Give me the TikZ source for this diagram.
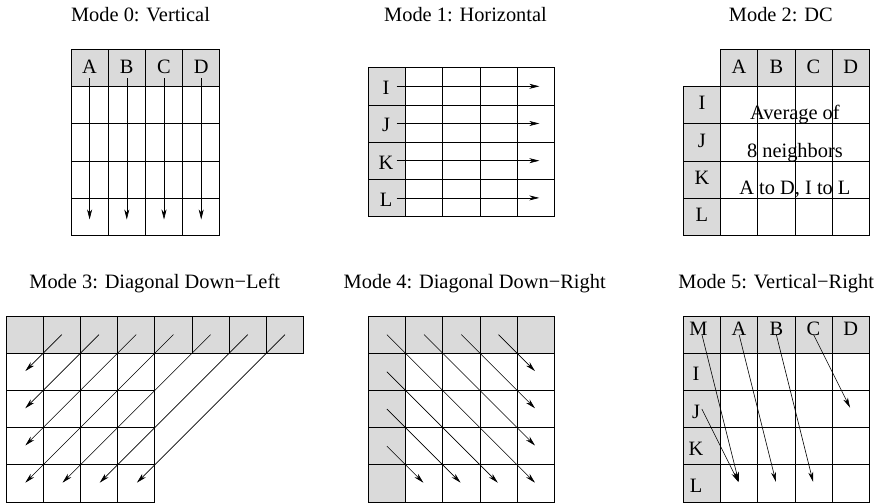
\documentclass[tikz,border=0pt]{standalone}
\usepackage{fontspec}
\setmainfont{Liberation Serif}
\usetikzlibrary{arrows.meta}
\definecolor{cellgray}{RGB}{218,218,218}
\tikzset{
  cell/.style={draw=black, line width=0.8pt, minimum width=37.2pt, minimum height=37.2pt, inner sep=0pt, outer sep=0pt, fill=white},
  gcell/.style={cell, fill=cellgray},
  lett/.style={font=\fontsize{20.4}{24}\selectfont, inner sep=0pt, anchor=base},
  ttl/.style={font=\fontsize{20.4}{24}\selectfont, inner sep=0pt, anchor=base},
  arr/.style={line width=0.6pt, -{Stealth[length=10pt,width=5pt,inset=3pt]}}
}
\begin{document}
\begin{tikzpicture}[x=1pt,y=-1pt]
\useasboundingbox (0,0) rectangle (882,503);
% ---------- titles ----------
\node[ttl] (t0) at (140.5,21.7) {Mode 0: Vertical};
\node[ttl] (t1) at (465.5,21.7) {Mode 1: Horizontal};
\node[ttl] (t2) at (780.8,21.7) {Mode 2: DC};
\node[ttl] (t3) at (154.7,288.3) {Mode 3: Diagonal Down−Left};
\node[ttl] (t4) at (474.7,288.3) {Mode 4: Diagonal Down−Right};
\node[ttl] (t5) at (776.2,288.3) {Mode 5: Vertical−Right};
% ---------- Mode 0 ----------
\foreach \c in {0,...,3} {
  \node[gcell] (a-\c-0) at ({89.6+37.2*\c},67.9) {};
  \foreach \r in {1,...,4}
    \node[cell] (a-\c-\r) at ({89.6+37.2*\c},{67.9+37.2*\r}) {};
}
\foreach \c/\l in {0/A,1/B,2/C,3/D}
  \node[lett] (al-\c) at ({89.6+37.2*\c},73.5) {\l};
\foreach \c in {0,...,3}
  \draw[arr] ([yshift=-4.5pt]al-\c.base) -- ([yshift=-2.8pt]a-\c-4.center);
% ---------- Mode 1 ----------
\foreach \r in {0,...,3} {
  \node[gcell] (b-0-\r) at (386.9,{86.3+37.2*\r}) {};
  \foreach \c in {1,...,4}
    \node[cell] (b-\c-\r) at ({386.9+37.2*\c},{86.3+37.2*\r}) {};
}
\foreach \r/\l in {0/I,1/J,2/K,3/L}
  \node[lett] (bl-\r) at (386,{94.6+37.2*\r}) {\l};
\foreach \r in {0,...,3}
  \draw[arr] ([xshift=-8.8pt]b-0-\r.east) -- ([xshift=3.6pt]b-4-\r.center);
% ---------- Mode 2 ----------
\foreach \c in {1,...,4} {
  \node[gcell] (c-\c-0) at ({701.9+37.2*\c},67.9) {};
  \node[gcell] (c-0-\c) at (701.9,{67.9+37.2*\c}) {};
}
\foreach \c in {1,...,4}
  \foreach \r in {1,...,4}
    \node[cell] (c-\c-\r) at ({701.9+37.2*\c},{67.9+37.2*\r}) {};
\foreach \c/\l in {1/A,2/B,3/C,4/D}
  \node[lett] (cl-\c) at ({701.9+37.2*\c},74) {\l};
\foreach \r/\l in {1/I,2/J,3/K,4/L}
  \node[lett] (cr-\r) at (701.9,{72.6+37.2*\r}) {\l};
\node[lett] (dc1) at (794.9,119.8) {Average of};
\node[lett] (dc2) at (794.9,157.0) {8 neighbors};
\node[lett] (dc3) at (794.9,194.4) {A to D, I to L};
% ---------- Mode 3 ----------
\foreach \c in {0,...,7}
  \node[gcell] (d-\c-0) at ({24.6+37.2*\c},334.6) {};
\foreach \c in {0,...,3}
  \foreach \r in {1,...,4}
    \node[cell] (d-\c-\r) at ({24.6+37.2*\c},{334.6+37.2*\r}) {};
\foreach \k/\tc/\tr in {1/0/1,2/0/2,3/0/3,4/0/4,5/1/4,6/2/4,7/3/4}
  \draw[arr, shorten >=1pt] (d-\k-0.center) -- (d-\tc-\tr.center);
% ---------- Mode 4 ----------
\foreach \c in {0,...,4}
  \node[gcell] (e-\c-0) at ({386.9+37.2*\c},334.6) {};
\foreach \r in {1,...,4}
  \node[gcell] (e-0-\r) at (386.9,{334.6+37.2*\r}) {};
\foreach \c in {1,...,4}
  \foreach \r in {1,...,4}
    \node[cell] (e-\c-\r) at ({386.9+37.2*\c},{334.6+37.2*\r}) {};
\foreach \sc/\sr/\tc/\tr in {0/0/4/4,1/0/4/3,2/0/4/2,3/0/4/1,0/1/3/4,0/2/2/4,0/3/1/4}
  \draw[arr, shorten >=1pt] (e-\sc-\sr.center) -- (e-\tc-\tr.center);
% ---------- Mode 5 ----------
\foreach \c in {0,...,4}
  \node[gcell] (f-\c-0) at ({701.9+37.2*\c},334.6) {};
\foreach \r in {1,...,4}
  \node[gcell] (f-0-\r) at (701.9,{334.6+37.2*\r}) {};
\foreach \c in {1,...,4}
  \foreach \r in {1,...,4}
    \node[cell] (f-\c-\r) at ({701.9+37.2*\c},{334.6+37.2*\r}) {};
\node[lett] (fl-0) at (698.4,335) {M};
\foreach \c/\l in {1/A,2/B,3/C,4/D}
  \node[lett] (fl-\c) at ({701.9+37.2*\c},335) {\l};
\foreach \r/\l in {1/I,2/J,3/K,4/L}
  \node[lett] (fr-\r) at (696,{343.6+37.2*\r}) {\l};
\foreach \sc/\sr/\tc/\tr in {0/0/1/4,1/0/2/4,2/0/3/4,3/0/4/2,0/2/1/4}
  \draw[arr, shorten >=1.5pt] (f-\sc-\sr.center) -- (f-\tc-\tr.center);
\end{tikzpicture}
\end{document}
